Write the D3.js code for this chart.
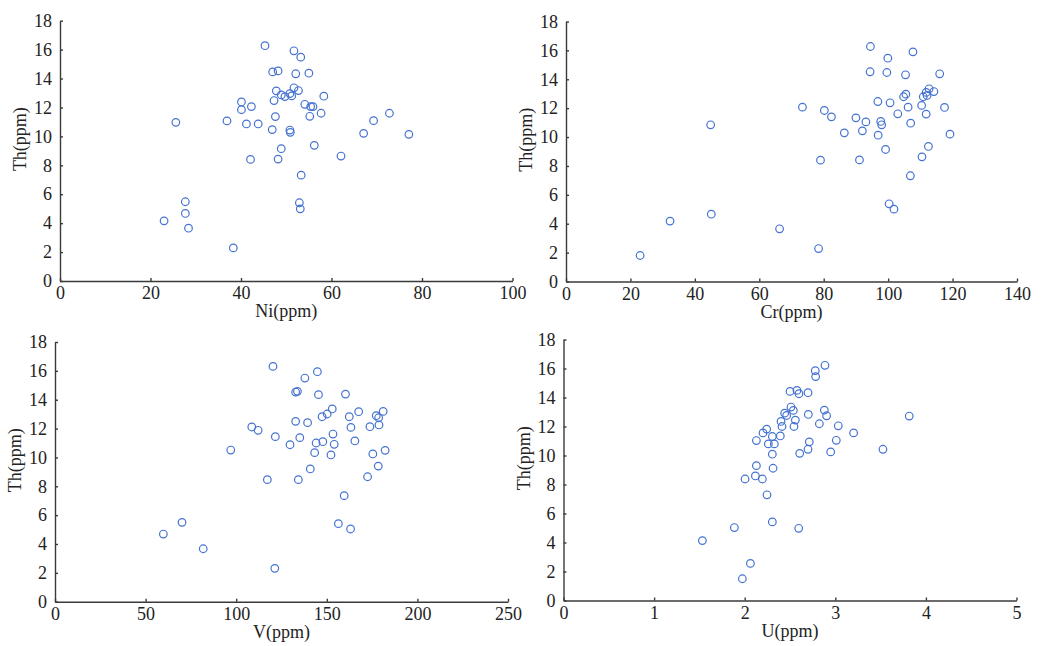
<!DOCTYPE html>
<html>
<head>
<meta charset="utf-8">
<script src="https://cdn.jsdelivr.net/npm/d3@7"></script>
<style>
  body { margin: 0; background: #fff; }
  svg { display: block; }
  .axis path, .axis line { stroke: #3a3a3a; stroke-width: 1.4; }
  .axis text { font-family: "Liberation Serif", "Times New Roman", serif; font-size: 18px; fill: #222; }
  .title { font-family: "Liberation Serif", "Times New Roman", serif; font-size: 18px; fill: #222; }
  .dot { fill: none; stroke: #4472d0; stroke-width: 1.2; }
</style>
</head>
<body>
<svg width="1042" height="646"></svg>
<script>
// Th vs Ni
var niX  = [45.3, 51.7, 53.2, 47.0, 48.2, 52.1, 55.0, 51.7, 52.7, 47.8, 48.9, 49.7, 50.8, 51.2, 58.3, 47.3, 40.1,
            40.1, 42.3, 54.1, 55.4, 55.9, 57.7, 55.2, 47.6, 72.8, 25.6, 36.9, 41.2, 43.8, 69.3, 46.9, 50.8,
            50.9, 67.1, 77.1, 56.2, 48.9, 42.1, 48.2, 62.1, 53.3, 27.7, 52.9, 53.1, 27.7, 23.0, 28.4, 38.3];
var niTh = [16.27, 15.92, 15.48, 14.46, 14.53, 14.33, 14.37, 13.36, 13.17, 13.15, 12.87, 12.75, 12.96, 12.80, 12.78, 12.48, 12.38,
            11.85, 12.06, 12.22, 12.06, 12.06, 11.60, 11.39, 11.37, 11.60, 10.97, 11.07, 10.86, 10.86, 11.09, 10.47, 10.44,
            10.28, 10.21, 10.14, 9.38, 9.15, 8.41, 8.43, 8.64, 7.32, 5.48, 5.41, 4.99, 4.67, 4.16, 3.65, 2.29];

// Th vs Cr
var crX  = [94.5, 107.7, 99.9, 94.4, 99.6, 105.4, 116.0, 112.7, 114.2, 111.8, 105.5, 104.8, 110.9, 112.1, 96.8, 100.6,
            73.4, 80.2, 106.2, 110.4, 117.5, 82.4, 90.0, 103.0, 111.8, 93.1, 97.7, 98.0, 107.0, 44.9, 86.4, 92.0,
            96.9, 119.2, 112.5, 99.2, 110.5, 79.0, 91.1, 106.9, 100.3, 101.8, 32.3, 45.1, 66.3, 78.4, 23.0];
var crTh = [16.27, 15.90, 15.46, 14.52, 14.47, 14.31, 14.38, 13.34, 13.15, 13.09, 12.97, 12.79, 12.79, 12.88, 12.46, 12.37,
            12.07, 11.84, 12.07, 12.19, 12.05, 11.40, 11.33, 11.61, 11.59, 11.05, 11.08, 10.85, 10.96, 10.85, 10.29, 10.43,
            10.13, 10.20, 9.35, 9.14, 8.63, 8.40, 8.42, 7.32, 5.38, 5.01, 4.18, 4.66, 3.65, 2.28, 1.80];

// Th vs V
var vX  = [120.3, 144.8, 137.9, 132.8, 133.8, 145.4, 160.3, 153.0, 167.6, 181.1, 150.2, 147.4, 162.4, 177.3, 178.6, 132.8,
           139.4, 108.6, 112.1, 163.3, 173.8, 178.8, 121.6, 135.1, 153.4, 165.5, 129.7, 144.1, 147.8, 154.1, 97.0, 143.3,
           152.3, 175.4, 182.2, 178.4, 140.9, 117.2, 134.3, 172.5, 159.6, 70.1, 156.4, 163.1, 59.8, 81.8, 121.3];
var vTh = [16.31, 15.94, 15.50, 14.53, 14.58, 14.35, 14.39, 13.36, 13.17, 13.19, 13.01, 12.82, 12.82, 12.89, 12.75, 12.50,
           12.41, 12.11, 11.88, 12.08, 12.13, 12.25, 11.44, 11.37, 11.62, 11.14, 10.88, 11.00, 11.09, 10.91, 10.51, 10.33,
           10.17, 10.24, 10.49, 9.40, 9.20, 8.46, 8.46, 8.66, 7.35, 5.50, 5.41, 5.04, 4.69, 3.67, 2.31];

// Th vs U
var uX  = [2.886, 2.779, 2.783, 2.500, 2.577, 2.599, 2.699, 2.511, 2.537, 2.441, 2.463, 2.702, 2.879, 2.904, 3.816, 2.401,
           2.559, 2.412, 2.544, 2.824, 3.033, 2.243, 2.202, 3.202, 2.305, 2.393, 2.129, 2.713, 3.011, 2.261, 2.327, 2.699,
           3.526, 2.305, 2.607, 2.949, 2.129, 2.313, 2.004, 2.118, 2.195, 2.246, 2.305, 1.886, 2.596, 1.533, 2.063, 1.974];
var uTh = [16.22, 15.85, 15.44, 14.42, 14.49, 14.26, 14.33, 13.34, 13.11, 12.92, 12.76, 12.83, 13.13, 12.74, 12.72, 12.35,
           12.44, 12.00, 12.00, 12.19, 12.05, 11.82, 11.56, 11.56, 11.31, 11.35, 11.03, 10.94, 11.05, 10.80, 10.80, 10.43,
           10.43, 10.09, 10.15, 10.25, 9.30, 9.12, 8.38, 8.59, 8.38, 7.29, 5.42, 5.03, 4.98, 4.13, 2.56, 1.50];

var thTicks = [0, 2, 4, 6, 8, 10, 12, 14, 16, 18];
var niTicks = [0, 20, 40, 60, 80, 100];
var crTicks = [0, 20, 40, 60, 80, 100, 120, 140];
var vTicks  = [0, 50, 100, 150, 200, 250];
var uTicks  = [0, 1, 2, 3, 4, 5];

var svg = d3.select("svg");

var panels = [
  { x: niX, y: niTh, xTicks: niTicks, xMax: 100, xLabel: "Ni(ppm)", left: 60,  right: 512.5, top: 20.7, bottom: 281 },
  { x: crX, y: crTh, xTicks: crTicks, xMax: 140, xLabel: "Cr(ppm)", left: 566, right: 1017,  top: 21.5, bottom: 281.5 },
  { x: vX,  y: vTh,  xTicks: vTicks,  xMax: 250, xLabel: "V(ppm)",  left: 55,  right: 508,   top: 342,  bottom: 601.7 },
  { x: uX,  y: uTh,  xTicks: uTicks,  xMax: 5,   xLabel: "U(ppm)",  left: 563.5, right: 1016.5, top: 339.5, bottom: 600.5 }
];

panels.forEach(function(p) {
  var x = d3.scaleLinear().domain([0, p.xMax]).range([p.left, p.right]);
  var y = d3.scaleLinear().domain([0, 18]).range([p.bottom, p.top]);
  var g = svg.append("g");

  g.append("g")
      .attr("class", "axis")
      .attr("transform", "translate(0," + p.bottom + ")")
      .call(d3.axisBottom(x).tickValues(p.xTicks).tickFormat(d3.format("d"))
        .tickSizeInner(-3).tickSizeOuter(0).tickPadding(5.5));

  g.append("g")
      .attr("class", "axis")
      .attr("transform", "translate(" + p.left + ",0)")
      .call(d3.axisLeft(y).tickValues(thTicks).tickFormat(d3.format("d"))
        .tickSizeInner(-3).tickSizeOuter(0).tickPadding(8));

  g.selectAll(".axis .domain").attr("fill", "none");

  g.append("text")
      .attr("class", "title")
      .attr("text-anchor", "middle")
      .attr("x", (p.left + p.right) / 2)
      .attr("y", p.bottom + 36)
      .text(p.xLabel);

  g.append("text")
      .attr("class", "title")
      .attr("text-anchor", "middle")
      .attr("transform", "translate(" + (p.left - 34) + "," + (p.top + 0.455 * (p.bottom - p.top)) + ") rotate(-90)")
      .text("Th(ppm)");

  g.selectAll(".dot")
    .data(p.x.map(function(d, i) { return [d, p.y[i]]; }))
    .enter().append("circle")
      .attr("class", "dot")
      .attr("r", 3.8)
      .attr("cx", function(d) { return x(d[0]); })
      .attr("cy", function(d) { return y(d[1]); });
});
</script>
</body>
</html>
